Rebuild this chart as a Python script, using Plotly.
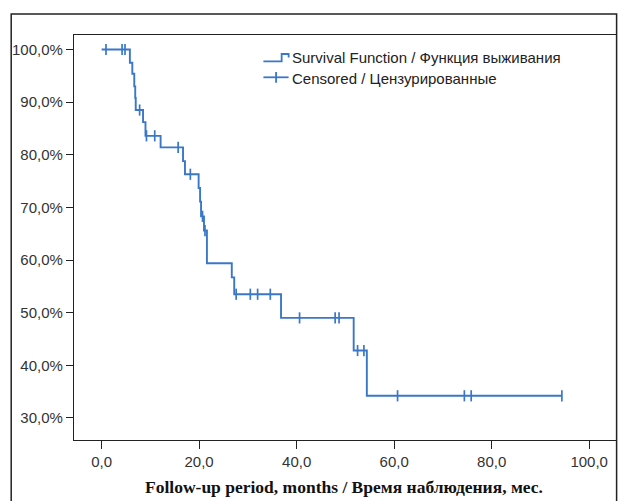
import plotly.graph_objects as go

# ---- data ----
step_times = [0, 5.8, 6.3, 6.7, 6.9, 7.0, 8.5, 9.0, 12.1, 16.7, 17.1, 19.9, 20.2, 20.4,
              21.0, 21.6, 26.7, 27.2, 36.8, 51.7, 54.4]
survival = [100, 97.5, 95.4, 93.0, 90.8, 88.5, 86.2, 83.6, 81.4, 78.8, 76.3, 73.7, 71.1, 68.3,
            65.6, 59.4, 56.7, 53.5, 49.0, 42.8, 34.2]
last_followup = 94.4

censor_times = [0.9, 4.2, 4.8, 7.8, 9.2, 10.9, 15.7, 18.2, 20.7, 21.2, 27.6, 30.5, 32.0, 34.6,
                40.6, 47.9, 48.7, 52.5, 53.8, 60.7, 74.4, 75.8, 94.4]
censor_surv = [100, 100, 100, 88.5, 83.6, 83.6, 81.4, 76.3, 68.3, 65.6, 53.5, 53.5, 53.5, 53.5,
               49.0, 49.0, 49.0, 42.8, 42.8, 34.2, 34.2, 34.2, 34.2]

x_tickvals = [0, 20, 40, 60, 80, 100]
x_ticktext = ["0,0", "20,0", "40,0", "60,0", "80,0", "100,0"]
y_tickvals = [30, 40, 50, 60, 70, 80, 90, 100]
y_ticktext = ["30,0%", "40,0%", "50,0%", "60,0%", "70,0%", "80,0%", "90,0%", "100,0%"]

legend_labels = ["Survival Function / Функция выживания", "Censored / Цензурированные"]
x_title = "Follow-up period, months / Время наблюдения, мес."

# ---- layout geometry (pixels) ----
W, H = 619, 501
L, R, T, B = 74, 617.7, 35, 440
PW, PH = R - L, B - T


def px(xp):
    return (xp - L) / PW


def py(yp):
    return (B - yp) / PH


BLUE = "#3A77C8"
DARK = "#222222"

fig = go.Figure()
fig.add_trace(go.Scatter(
    x=step_times + [last_followup], y=survival + [survival[-1]],
    mode="lines", line=dict(color=BLUE, width=1.9, shape="hv"),
    showlegend=False, hoverinfo="skip"))
fig.add_trace(go.Scatter(
    x=censor_times, y=censor_surv, mode="markers",
    marker=dict(symbol="line-ns", size=8, line=dict(color=BLUE, width=1.7)),
    showlegend=False, hoverinfo="skip"))

shapes = [
    # outer frame
    dict(type="rect", xref="paper", yref="paper", x0=px(11), x1=px(618.3), y0=py(515), y1=py(14),
         line=dict(color=DARK, width=1.5), layer="below"),
    # legend icon: survival step
    dict(type="path", xref="paper", yref="paper",
         path=f"M {px(264)},{py(61.3)} L {px(282.3)},{py(61.3)} L {px(282.3)},{py(54)} "
              f"L {px(289.3)},{py(54)} L {px(289.3)},{py(57.5)}",
         line=dict(color=BLUE, width=1.8)),
    # legend icon: censored
    dict(type="line", xref="paper", yref="paper", x0=px(264), x1=px(289.3), y0=py(77.3), y1=py(77.3),
         line=dict(color=BLUE, width=1.8)),
    dict(type="line", xref="paper", yref="paper", x0=px(276.7), x1=px(276.7), y0=py(72), y1=py(82.7),
         line=dict(color=BLUE, width=1.8)),
]

annotations = [
    dict(text=legend_labels[0], xref="paper", yref="paper", x=px(291), y=py(57.5),
         xanchor="left", yanchor="middle", showarrow=False,
         font=dict(family="Liberation Sans, Arial", size=15, color=DARK)),
    dict(text=legend_labels[1], xref="paper", yref="paper", x=px(291), y=py(78.3),
         xanchor="left", yanchor="middle", showarrow=False,
         font=dict(family="Liberation Sans, Arial", size=15, color=DARK)),
    dict(text="<b>" + x_title + "</b>", xref="paper", yref="paper", x=px(345), y=py(487),
         xanchor="center", yanchor="middle", showarrow=False,
         font=dict(family="Liberation Serif, Times New Roman", size=17.5, color="#111111")),
]

axis_common = dict(showgrid=False, zeroline=False, showline=True, mirror=True,
                   linecolor=DARK, linewidth=1.3, ticks="outside", tickcolor=DARK,
                   tickwidth=1.3,
                   tickfont=dict(family="Liberation Sans, Arial", size=15, color="#333333"))

fig.update_layout(
    width=W, height=H,
    margin=dict(l=L, r=W - R, t=T, b=H - B, pad=0),
    paper_bgcolor="white", plot_bgcolor="white",
    xaxis=dict(range=[-5.66, 105.5], tickvals=x_tickvals, ticktext=x_ticktext, ticklen=8,
               **axis_common),
    yaxis=dict(range=[25.8, 102.76], tickvals=y_tickvals, ticktext=y_ticktext, ticklen=7,
               **axis_common),
    shapes=shapes, annotations=annotations, showlegend=False,
)

fig.write_html("out.html")
